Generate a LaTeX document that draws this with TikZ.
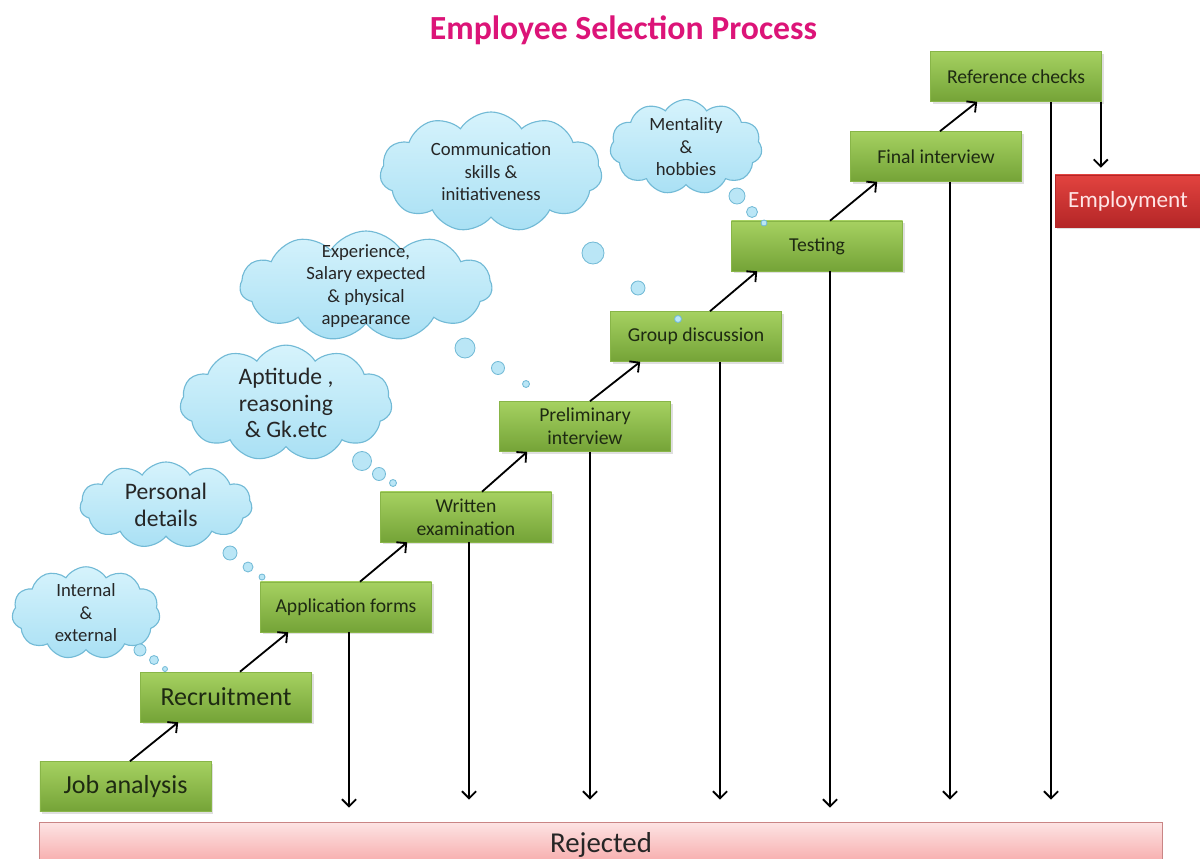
\documentclass[tikz,border=0pt]{standalone}
\usepackage{fontspec}
\setmainfont{Carlito}
\usepackage{tikz}
\usetikzlibrary{shapes.symbols, arrows.meta, positioning, calc, shadows}

\definecolor{stagetop}{HTML}{A6D161}
\definecolor{stagebot}{HTML}{74A337}
\definecolor{stageline}{HTML}{88B548}
\definecolor{stagetext}{HTML}{1E2A12}
\definecolor{hiretop}{HTML}{E2433F}
\definecolor{hirebot}{HTML}{B42627}
\definecolor{rejtop}{HTML}{FDE4E4}
\definecolor{rejbot}{HTML}{F6A5A5}
\definecolor{rejline}{HTML}{C98585}
\definecolor{cloudtop}{HTML}{D6F3FC}
\definecolor{cloudbot}{HTML}{A9E0F4}
\definecolor{cloudline}{HTML}{72BAD6}
\definecolor{titlecol}{HTML}{DC1478}

\begin{document}
\begin{tikzpicture}[x=0.025cm, y=-0.025cm,
  stage/.style={rectangle, draw=stageline, line width=0.4pt, top color=stagetop, bottom color=stagebot,
    minimum width=4.275cm, minimum height=1.25cm, inner sep=1pt, align=center, text=stagetext,
    font=\fontsize{14}{16.5}\selectfont,
    drop shadow={shadow xshift=1.5pt, shadow yshift=-1.5pt, opacity=0.25}},
  bigstage/.style={stage, font=\fontsize{18.5}{22}\selectfont},
  hire/.style={stage, draw=hirebot, top color=hiretop, bottom color=hirebot, text=white!90!red,
    minimum width=3.65cm, minimum height=1.3cm, font=\fontsize{16.5}{19}\selectfont},
  rejbox/.style={rectangle, draw=rejline, line width=0.6pt, top color=rejtop, bottom color=rejbot,
    minimum width=28.05cm, minimum height=1.15cm, inner sep=0pt, text=black!85,
    font=\fontsize{20.5}{24}\selectfont},
  thought/.style={cloud, cloud puffs=11, cloud puff arc=115, cloud ignores aspect,
    draw=cloudline, line width=0.8pt, top color=cloudtop, bottom color=cloudbot,
    align=center, inner sep=0pt, text=black!85, font=\fontsize{13.3}{16}\selectfont},
  bigthought/.style={thought, font=\fontsize{16.8}{19}\selectfont},
  bubble/.style={draw=cloudline, line width=0.6pt, fill=cloudbot!80!white},
  climb/.style={line width=1.3pt, -{Straight Barb[length=5pt, width=10pt]}},
  fall/.style={climb},
  title/.style={text=titlecol, font=\bfseries\fontsize{24}{28}\selectfont}
]
\useasboundingbox (0,0) rectangle (1200,859);

% heading
\node[title, anchor=base] (title) at (623.5,40) {Employee Selection Process};

% stages of the process
\node[bigstage] (job) at (125.5,786.5) {Job analysis};
\node[bigstage] (rec) at (226,697) {Recruitment};
\node[stage] (app) at (346,607) {Application forms};
\node[stage] (written) at (466,517) {Written\\examination};
\node[stage] (prelim) at (585,426.5) {Preliminary\\interview};
\node[stage] (group) at (696,336.5) {Group discussion};
\node[stage] (testing) at (817,246) {Testing};
\node[stage] (final) at (936,156.5) {Final interview};
\node[stage] (ref) at (1016,76.5) {Reference checks};
\node[hire] (hire) at (1128,201) {Employment};
\node[rejbox] (rej) at (601,845) {Rejected};

% what each stage looks at
\node[thought, minimum width=3.7cm, minimum height=2.1cm] (intcloud) at (86,613) {Internal\\\&\\external};
\node[bigthought, minimum width=4.3cm, minimum height=2.15cm] (perscloud) at (166,505) {Personal\\details};
\node[bigthought, minimum width=5.3cm, minimum height=2.6cm] (aptcloud) at (286,403) {Aptitude ,\\reasoning\\\& Gk.etc};
\node[thought, inner sep=-7pt, minimum width=6.3cm, minimum height=2.75cm] (expcloud) at (366,286) {Experience,\\Salary expected\\\& physical\\appearance};
\node[thought, minimum width=5.55cm, minimum height=3cm] (comcloud) at (491,172) {Communication\\skills \&\\initiativeness};
\node[thought, minimum width=3.8cm, minimum height=2.25cm] (mentcloud) at (686,147) {Mentality\\\&\\hobbies};

\draw[bubble] (140,650) circle (6);
\draw[bubble] (154,660) circle (4.5);
\draw[bubble] (165,669) circle (2.5);
\draw[bubble] (230,553) circle (7);
\draw[bubble] (248,567) circle (5);
\draw[bubble] (262,577) circle (3);
\draw[bubble] (362,461) circle (9.5);
\draw[bubble] (379,474) circle (6.5);
\draw[bubble] (393,483) circle (3.5);
\draw[bubble] (465,348) circle (10);
\draw[bubble] (498,368) circle (6.5);
\draw[bubble] (526,384) circle (3.5);
\draw[bubble] (593,253) circle (11);
\draw[bubble] (638,288) circle (7);
\draw[bubble] (678,319) circle (3.5);
\draw[bubble] (737,196) circle (8);
\draw[bubble] (752,212) circle (5.5);
\draw[bubble] (764,223) circle (3);

% going up the stairs
\draw[climb] ($(job.north)+(4.5,0)$) -- ($(rec.south west)+(38,0)$);
\draw[climb] ($(rec.north)+(14,0)$) -- ($(app.south west)+(28,0)$);
\draw[climb] ($(app.north)+(14,0)$) -- ($(written.south west)+(27,0)$);
\draw[climb] ($(written.north)+(16,0)$) -- ($(prelim.south west)+(28,0)$);
\draw[climb] ($(prelim.north)+(5,0)$) -- ($(group.south west)+(30,0)$);
\draw[climb] ($(group.north)+(14,0)$) -- ($(testing.south west)+(26,0)$);
\draw[climb] ($(testing.north)+(13,0)$) -- ($(final.south west)+(27,0)$);
\draw[climb] ($(final.north)+(4,0)$) -- ($(ref.south west)+(47,0)$);
\draw[fall] ($(ref.south east)+(-1,0)$) -- ($(ref.south east |- hire.north)+(-1,-7)$);

% dropping out
\draw[fall] ($(app.south)+(3,0)$) -- ($(app.south |- rej.north)+(3,-14)$);
\draw[fall] ($(written.south)+(3,0)$) -- ($(written.south |- rej.north)+(3,-22)$);
\draw[fall] ($(prelim.south)+(5,0)$) -- ($(prelim.south |- rej.north)+(5,-22)$);
\draw[fall] ($(group.south)+(24,0)$) -- ($(group.south |- rej.north)+(24,-22)$);
\draw[fall] ($(testing.south)+(13,0)$) -- ($(testing.south |- rej.north)+(13,-14)$);
\draw[fall] ($(final.south)+(14,0)$) -- ($(final.south |- rej.north)+(14,-22)$);
\draw[fall] ($(ref.south)+(35,0)$) -- ($(ref.south |- rej.north)+(35,-22)$);
\end{tikzpicture}
\end{document}
